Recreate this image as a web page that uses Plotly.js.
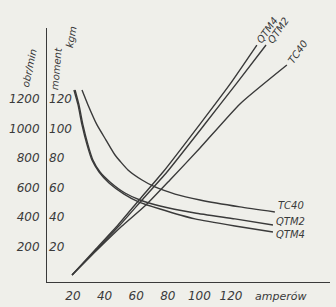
<!DOCTYPE html>
<html><head><meta charset="utf-8">
<script src="https://cdn.plot.ly/plotly-3.0.1.min.js"></script>
<style>body{margin:0;background:#efefea}#c{width:336px;height:307px}</style>
</head><body><div id="c"></div>
<script>
// current (amperes) and speed (obr/min) for the falling curves
const spTC40_A = [25.7, 29.5, 35.2, 40.9, 46.6, 54.8, 63.7, 71.9, 84.6, 100.4, 125.7, 147.8];
const spTC40_v = [1260, 1159, 1024, 922, 821, 720, 652, 605, 557, 517, 470, 436];
const spQTM2_A = [21.3, 23.8, 26.3, 29.5, 32.6, 37.1, 43.4, 52.9, 62.4, 75.1, 97.2, 122.5, 146.6];
const spQTM2_v = [1260, 1159, 1024, 889, 787, 706, 639, 564, 517, 476, 429, 389, 348];
const spQTM4_A = [20.6, 23.2, 25.7, 28.9, 32.0, 36.5, 42.8, 52.3, 61.8, 75.1, 97.2, 122.5, 146.6];
const spQTM4_v = [1260, 1159, 1024, 889, 787, 706, 632, 557, 503, 456, 389, 341, 301];
// current (amperes) and torque (kgm) for the rising curves
const tqQTM4_A = [19.4, 33.9, 48.5, 62.4, 77.0, 100.4, 119.4, 136.4];
const tqQTM4_T = [1.0, 17.9, 34.8, 52.4, 70.6, 103, 130, 156.4];
const tqQTM2_A = [19.4, 34.6, 49.7, 64.3, 79.5, 103.5, 123.2, 142.2];
const tqQTM2_T = [1.0, 17.9, 34.8, 52.4, 70.6, 103, 130, 156.4];
const tqTC40_A = [19.4, 35.2, 51.0, 66.2, 81.4, 100.4, 125.7, 155.4];
const tqTC40_T = [1.0, 17.9, 34.1, 48.3, 65.2, 86.8, 116.6, 142.9];
const xTicks = [20, 40, 60, 80, 100, 120];
const ySpeedTicks = [200, 400, 600, 800, 1000, 1200];
const yTorqueTicks = [20, 40, 60, 80, 100, 120];

const ink = '#3a3a3a';
const ln = {color: ink, width: 1.4, shape: 'spline', smoothing: 0.5};
const tr = (x, y, ax) => ({x, y, type: 'scatter', mode: 'lines', line: ln, yaxis: ax, hoverinfo: 'skip', showlegend: false});
const data = [
  tr(spTC40_A, spTC40_v, 'y'), tr(spQTM2_A, spQTM2_v, 'y'), tr(spQTM4_A, spQTM4_v, 'y'),
  tr(tqQTM4_A, tqQTM4_T, 'y2'), tr(tqQTM2_A, tqQTM2_T, 'y2'), tr(tqTC40_A, tqTC40_T, 'y2')
];
const f = {family: 'DejaVu Sans', size: 12, color: ink, style: 'italic'};
const fs = {family: 'DejaVu Sans', size: 10, color: ink, style: 'italic'};
const last = a => a[a.length - 1];
const ann = [
  {x: last(tqQTM4_A), y: last(tqQTM4_T), yref: 'y2', text: 'QTM4', textangle: -55, xanchor: 'left', yanchor: 'bottom', xshift: -4, yshift: -2},
  {x: last(tqQTM2_A), y: last(tqQTM2_T), yref: 'y2', text: 'QTM2', textangle: -55, xanchor: 'left', yanchor: 'bottom', xshift: -2, yshift: -2},
  {x: last(tqTC40_A), y: last(tqTC40_T), yref: 'y2', text: 'TC40', textangle: -55, xanchor: 'left', yanchor: 'bottom', xshift: -2, yshift: -2},
  {x: last(spTC40_A), y: last(spTC40_v), yref: 'y', text: 'TC40', xanchor: 'left', yanchor: 'middle', xshift: 2, yshift: 6},
  {x: last(spQTM2_A), y: last(spQTM2_v), yref: 'y', text: 'QTM2', xanchor: 'left', yanchor: 'middle', xshift: 2, yshift: 3},
  {x: last(spQTM4_A), y: last(spQTM4_v), yref: 'y', text: 'QTM4', xanchor: 'left', yanchor: 'middle', xshift: 2, yshift: -3},
].map(a => Object.assign({xref: 'x', showarrow: false, font: fs, borderpad: 0}, a));
ann.push(
  {xref: 'paper', yref: 'paper', x: 0.825, y: -0.059, text: 'amperów', showarrow: false,
   font: {family: 'DejaVu Sans', size: 11, color: ink, style: 'italic'}, xanchor: 'center', yanchor: 'middle'},
  {xref: 'paper', yref: 'paper', x: -0.105, y: 0.93, text: 'obr/min', showarrow: false, font: fs, textangle: -78},
  {xref: 'paper', yref: 'paper', x: 0.0, y: 0.935, text: 'moment', showarrow: false, font: fs, textangle: -85},
  {xref: 'paper', yref: 'paper', x: 0.05, y: 1.02, text: 'kgm', showarrow: false, font: fs, textangle: -80}
);
const layout = {
  width: 336, height: 307,
  margin: {l: 47, r: 6, t: 28, b: 25},
  paper_bgcolor: '#efefea', plot_bgcolor: '#efefea',
  xaxis: {range: [3.54, 182.7], tickvals: xTicks, ticks: '', showgrid: false, zeroline: false,
          showline: true, linecolor: ink, linewidth: 1, tickfont: f, ticklabelstandoff: 3},
  yaxis: {range: [-37.2, 1679], tickvals: ySpeedTicks, ticks: '', showgrid: false, zeroline: false,
          showline: true, linecolor: ink, linewidth: 1, tickfont: f, ticklabelstandoff: 4},
  yaxis2: {range: [-3.72, 167.9], tickvals: yTorqueTicks, overlaying: 'y', side: 'right', anchor: 'free', position: 0,
           ticks: '', showgrid: false, zeroline: false, showline: false, tickfont: f, ticklabelstandoff: 1},
  annotations: ann,
  showlegend: false
};
Plotly.newPlot('c', data, layout, {staticPlot: true});
</script></body></html>
